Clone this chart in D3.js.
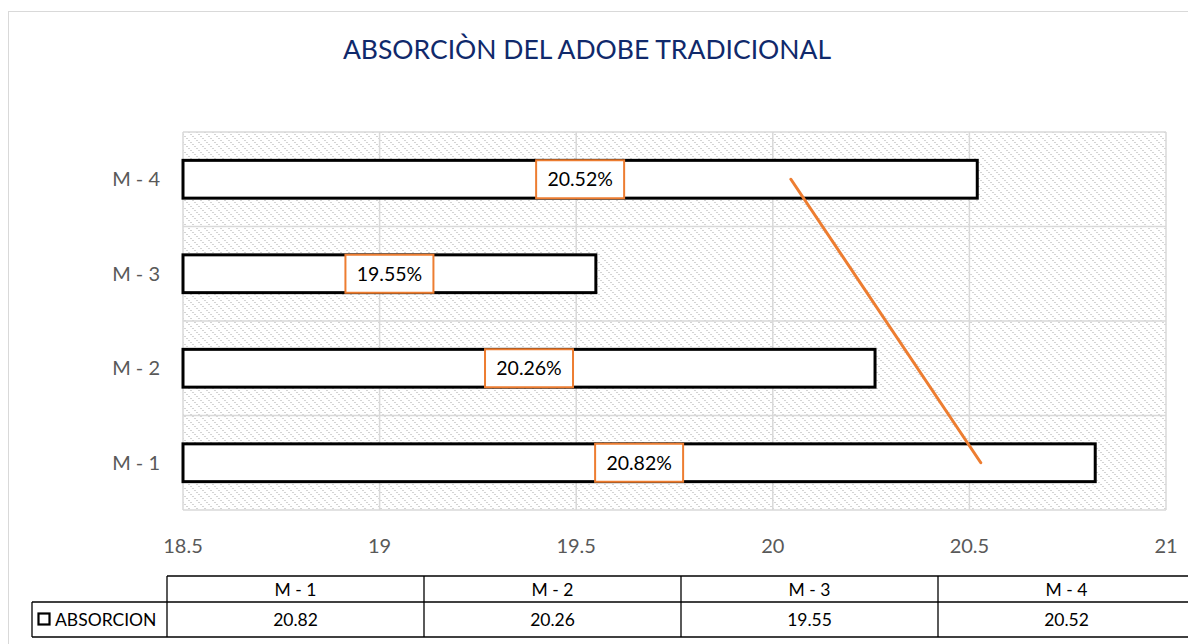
<!DOCTYPE html>
<html>
<head>
<meta charset="utf-8">
<script src="https://cdn.jsdelivr.net/npm/d3@7"></script>
<style>
  body { margin: 0; background: #fff; }
  svg { font-family: Lato, "Open Sans", sans-serif; }
</style>
</head>
<body>
<div id="chart"></div>
<script>
// chart data
const categories = ["M - 1", "M - 2", "M - 3", "M - 4"];
const values = [20.82, 20.26, 19.55, 20.52];
const xTicks = [18.5, 19, 19.5, 20, 20.5, 21];
const seriesName = "ABSORCION";
const title = "ABSORCIÒN DEL ADOBE TRADICIONAL";

const W = 1188, H = 644;
const plot = {left: 183, right: 1166, top: 132, bottom: 510};

const svg = d3.select("#chart").append("svg")
  .attr("width", W).attr("height", H);

// hatch pattern for plot background
const defs = svg.append("defs");
const pat = defs.append("pattern")
  .attr("id", "hatch")
  .attr("patternUnits", "userSpaceOnUse")
  .attr("width", 8).attr("height", 8);
pat.append("rect").attr("width", 8).attr("height", 8).attr("fill", "#fff");
[[0,0],[2,2],[4,4],[6,6],[1,0],[3,2],[5,4],[7,6]].forEach(p => {
  pat.append("rect").attr("x", p[0]).attr("y", p[1])
    .attr("width", 1).attr("height", 1).attr("fill", "#d4d4d4");
});

// chart outer border
svg.append("rect")
  .attr("x", 8.5).attr("y", 11.5)
  .attr("width", W + 20).attr("height", H + 20)
  .attr("fill", "none").attr("stroke", "#d9d9d9");

// title
svg.append("text")
  .attr("x", 587).attr("y", 59)
  .attr("text-anchor", "middle")
  .attr("font-size", 26.5)
  .attr("fill", "#10296b")
  .text(title);

const x = d3.scaleLinear().domain([18.5, 21]).range([plot.left, plot.right]);
const y = d3.scaleBand()
  .domain(categories.slice().reverse())
  .range([plot.top, plot.bottom])
  .paddingInner(0.6).paddingOuter(0.3);

// plot area
svg.append("rect")
  .attr("x", plot.left).attr("y", plot.top)
  .attr("width", plot.right - plot.left).attr("height", plot.bottom - plot.top)
  .attr("fill", "url(#hatch)");

// gridlines
svg.append("g").selectAll("line.v")
  .data(xTicks).enter().append("line")
  .attr("x1", d => x(d)).attr("x2", d => x(d))
  .attr("y1", plot.top).attr("y2", plot.bottom)
  .attr("stroke", "#d9d9d9").attr("stroke-width", 1.5);

const step = y.step();
const bounds = d3.range(categories.length + 1).map(i => plot.top + i * step);
svg.append("g").selectAll("line.h")
  .data(bounds).enter().append("line")
  .attr("x1", plot.left).attr("x2", plot.right)
  .attr("y1", d => d).attr("y2", d => d)
  .attr("stroke", "#d9d9d9").attr("stroke-width", 1.5);

// x axis labels
svg.append("g").selectAll("text")
  .data(xTicks).enter().append("text")
  .attr("x", d => x(d)).attr("y", 553)
  .attr("text-anchor", "middle")
  .attr("font-size", 20).attr("fill", "#595959")
  .text(d => d);

// y axis labels
svg.append("g").selectAll("text")
  .data(categories).enter().append("text")
  .attr("x", 160).attr("y", d => y(d) + y.bandwidth() / 2 + 7)
  .attr("text-anchor", "end")
  .attr("font-size", 20).attr("fill", "#595959")
  .text(d => d);

// bars
svg.append("g").selectAll("rect")
  .data(values).enter().append("rect")
  .attr("x", x(18.5))
  .attr("y", (d, i) => y(categories[i]))
  .attr("width", d => x(d) - x(18.5))
  .attr("height", y.bandwidth())
  .attr("fill", "#fff")
  .attr("stroke", "#000").attr("stroke-width", 3);

// linear trendline (least squares on category index)
const idx = categories.map((c, i) => i + 1);
const mi = d3.mean(idx), mv = d3.mean(values);
const slope = d3.sum(idx, (v, i) => (v - mi) * (values[i] - mv)) / d3.sum(idx, v => (v - mi) ** 2);
const icpt = mv - slope * mi;
svg.append("line")
  .attr("x1", x(icpt + slope * 1))
  .attr("y1", y(categories[0]) + y.bandwidth() / 2)
  .attr("x2", x(icpt + slope * 4))
  .attr("y2", y(categories[3]) + y.bandwidth() / 2)
  .attr("stroke", "#ed7d31").attr("stroke-width", 3)
  .attr("stroke-linecap", "round");

// data labels
const lbl = svg.append("g").selectAll("g")
  .data(values).enter().append("g")
  .attr("transform", (d, i) =>
    `translate(${(x(18.5) + x(d)) / 2},${y(categories[i]) + y.bandwidth() / 2})`);
lbl.append("rect")
  .attr("x", -44).attr("y", -19)
  .attr("width", 88).attr("height", 38)
  .attr("fill", "#fff")
  .attr("stroke", "#ed7d31").attr("stroke-width", 2);
lbl.append("text")
  .attr("text-anchor", "middle").attr("y", 7)
  .attr("font-size", 19.5).attr("fill", "#000")
  .text(d => d.toFixed(2) + "%");

// data table
const tLeft = 32, tCol0 = 167, colW = 257;
const rowTop = 576, rowMid = 602, rowBot = 637;
const t = svg.append("g").attr("stroke", "#000").attr("stroke-width", 1.3);
t.append("line").attr("x1", tCol0).attr("x2", W).attr("y1", rowTop).attr("y2", rowTop);
t.append("line").attr("x1", tLeft).attr("x2", W).attr("y1", rowMid).attr("y2", rowMid);
t.append("line").attr("x1", tLeft).attr("x2", W).attr("y1", rowBot).attr("y2", rowBot);
t.append("line").attr("x1", tLeft).attr("x2", tLeft).attr("y1", rowMid).attr("y2", rowBot);
t.selectAll("line.c")
  .data(d3.range(categories.length + 1)).enter().append("line")
  .attr("x1", i => tCol0 + i * colW).attr("x2", i => tCol0 + i * colW)
  .attr("y1", rowTop).attr("y2", rowBot);

svg.append("g").selectAll("text")
  .data(categories).enter().append("text")
  .attr("x", (d, i) => tCol0 + i * colW + colW / 2).attr("y", 596)
  .attr("text-anchor", "middle").attr("font-size", 17.5).attr("fill", "#000")
  .text(d => d);
svg.append("g").selectAll("text")
  .data(values).enter().append("text")
  .attr("x", (d, i) => tCol0 + i * colW + colW / 2).attr("y", 626)
  .attr("text-anchor", "middle").attr("font-size", 17.5).attr("fill", "#000")
  .text(d => d.toFixed(2));

// legend key in table
svg.append("rect")
  .attr("x", 38.5).attr("y", 613.5).attr("width", 11).attr("height", 11)
  .attr("fill", "#fff").attr("stroke", "#000").attr("stroke-width", 2.2);
svg.append("text")
  .attr("x", 55).attr("y", 626)
  .attr("font-size", 17.5).attr("fill", "#000")
  .text(seriesName);
</script>
</body>
</html>
